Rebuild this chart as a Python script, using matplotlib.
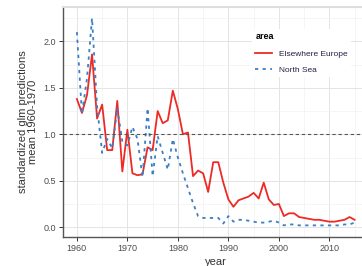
import numpy as np
import matplotlib.pyplot as plt

# data
years = np.arange(1960, 2016)
elsewhere_europe = [1.38, 1.23, 1.42, 1.86, 1.17, 1.32, 0.83, 0.83, 1.36, 0.60,
                    1.05, 0.58, 0.56, 0.57, 0.86, 0.83, 1.25, 1.12, 1.15, 1.47,
                    1.27, 1.00, 1.02, 0.55, 0.61, 0.58, 0.38, 0.70, 0.70, 0.48,
                    0.30, 0.22, 0.29, 0.31, 0.33, 0.37, 0.31, 0.48, 0.30, 0.24,
                    0.25, 0.12, 0.15, 0.15, 0.11, 0.10, 0.09, 0.08, 0.08, 0.07,
                    0.06, 0.06, 0.07, 0.08, 0.11, 0.08]
north_sea = [2.10, 1.22, 1.60, 2.25, 1.30, 0.80, 0.95, 0.85, 1.28, 0.92,
             0.88, 1.08, 0.95, 0.54, 1.28, 0.55, 0.98, 0.80, 0.62, 0.95,
             0.75, 0.58, 0.42, 0.26, 0.12, 0.10, 0.10, 0.10, 0.10, 0.04,
             0.12, 0.06, 0.08, 0.08, 0.07, 0.06, 0.05, 0.05, 0.06, 0.07,
             0.05, 0.02, 0.03, 0.03, 0.02, 0.02, 0.02, 0.02, 0.02, 0.02,
             0.02, 0.02, 0.02, 0.03, 0.03, 0.05]
labels = ["Elsewhere Europe", "North Sea"]
x_ticks = [1960, 1970, 1980, 1990, 2000, 2010]
y_ticks = [0.0, 0.5, 1.0, 1.5, 2.0]

plt.rcParams['font.family'] = ['Liberation Sans', 'DejaVu Sans']

fig = plt.figure(figsize=(3.62, 2.66), dpi=100)
ax = fig.add_axes([63/362, 1 - 237/266, (368.5 - 63)/362, 230/266])

ax.plot(years, elsewhere_europe, color="#ee2a24", lw=1.3, label=labels[0])
ax.plot(years, north_sea, color="#3b7fc4", lw=1.3, ls=(0, (1.8, 2.4)), label=labels[1])
ax.axhline(1.0, color="#555555", lw=0.8, ls=(0, (3, 2.5)))

ax.set_xlim(1957.25, 2017.75)
ax.set_ylim(-0.105, 2.37)
ax.set_xticks(x_ticks)
ax.set_yticks(y_ticks)
ax.set_yticklabels([f"{v:.1f}" for v in y_ticks])
ax.set_xticks(np.arange(1965, 2016, 10), minor=True)
ax.set_yticks([0.25, 0.75, 1.25, 1.75, 2.25], minor=True)
ax.grid(which="major", color="#e4e4e4", lw=0.7)
ax.grid(which="minor", color="#f2f2f2", lw=0.5)
ax.set_axisbelow(True)
ax.tick_params(which="major", length=3, width=0.7, color="#333333",
               labelsize=6.5, labelcolor="#4d4d4d", pad=2)
ax.tick_params(which="minor", length=0)

for s in ["top", "right"]:
    ax.spines[s].set_color("#dddddd")
    ax.spines[s].set_linewidth(1.5)
for s in ["left", "bottom"]:
    ax.spines[s].set_color("#555555")
    ax.spines[s].set_linewidth(1.0)

ax.set_xlabel("year", fontsize=8, color="#333333", labelpad=3)
ax.set_ylabel("standardized glm predictions\nmean 1960-1970", fontsize=8,
              color="#333333", labelpad=4, linespacing=1.0)

leg = fig.legend(loc="upper left", bbox_to_anchor=(252/362, 1 - 29/266),
                 title="area", fontsize=6, title_fontsize=6.5, frameon=True,
                 handlelength=2.0, borderaxespad=0, labelspacing=1.0)
leg.get_frame().set_edgecolor("none")
leg.get_frame().set_facecolor("white")
leg.get_frame().set_alpha(1)
leg.get_title().set_fontweight("bold")
leg._legend_box.align = "left"
for t in leg.get_texts():
    t.set_color("#222244")

fig.savefig("out.png", dpi=100)
